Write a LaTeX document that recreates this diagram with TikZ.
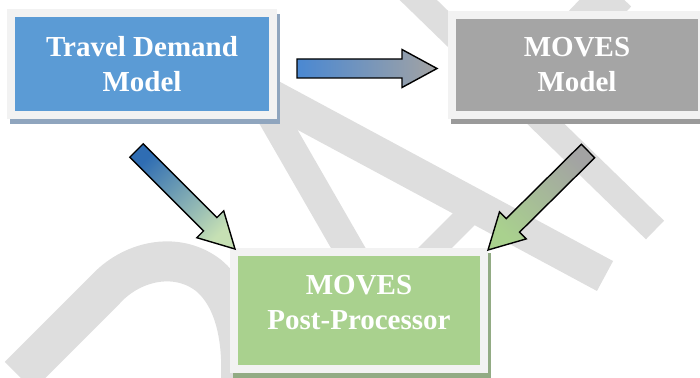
\documentclass[tikz,border=0pt]{standalone}
\usepackage{fontspec}
\setmainfont{Liberation Serif}
\usepackage{xcolor}
\usepackage{tikz}
\usetikzlibrary{calc}

\definecolor{tdmblue}{HTML}{5B9BD5}
\definecolor{tdmshade}{HTML}{8FA5BE}
\definecolor{movgray}{HTML}{A5A5A5}
\definecolor{movshade}{HTML}{9A9A9A}
\definecolor{postgreen}{HTML}{A9D18E}
\definecolor{postshade}{HTML}{92AB84}
\definecolor{rim}{HTML}{F2F2F2}
\definecolor{wm}{HTML}{DEDEDE}
\definecolor{arrblue}{HTML}{4A88D2}
\definecolor{arrdeep}{HTML}{2F6DB3}
\definecolor{arrpale}{HTML}{C6E0B4}
\definecolor{arrgray}{HTML}{A3A3A3}

\newcommand{\boxfont}{\fontsize{29}{35}\selectfont\bfseries}

% block arrow: tail, tip, shading
\newcommand{\fatarrow}[3]{%
  \coordinate (fa-base) at ($(#2)!35pt!(#1)$);
  \draw[arrowline, #3] ($(#1)!9.5pt!90:(#2)$) -- ($(fa-base)!9.5pt!90:(#2)$)
    -- ($(fa-base)!19pt!90:(#2)$) -- (#2) -- ($(fa-base)!19pt!-90:(#2)$)
    -- ($(fa-base)!9.5pt!-90:(#2)$) -- ($(#1)!9.5pt!-90:(#2)$) -- cycle;
}

\begin{document}
\begin{tikzpicture}[x=1pt, y=-1pt,
    box/.style={rectangle, draw=rim, line width=8pt, inner sep=0pt,
        minimum width=250pt, minimum height=100pt, align=center,
        text=white, font=\boxfont,
        preaction={draw=#1, fill=#1, transform canvas={shift={(3pt,-5pt)}}}},
    arrowline/.style={draw=black, line width=1.4pt, line join=miter},
    wmband/.style={draw=wm, line width=#1, line cap=butt}
]
    \useasboundingbox (0,0) rectangle (700,377);

    % watermark
    \draw[wmband=40] (19,376) -- (105,290) .. controls (130,262) and (175,250) .. (208,275)
        .. controls (235,297) and (245,340) .. (240,395);
    \draw[wmband=30] (240,60) -- (430,390);
    \draw[wmband=34] (250,85) -- (605,276);
    \draw[wmband=24] (380,303) -- (478,205);
    \draw[wmband=26] (408,-10) -- (655,230);
    \draw[wmband=42] (616,-8) -- (508,105);

    % Nodes
    \node[box=tdmshade, fill=tdmblue, minimum width=262pt, minimum height=102pt]
        (tdm) at (142,64) {Travel Demand\\Model};
    \node[box=movshade, fill=movgray] (moves) at (577,65) {MOVES\\Model};
    \node[box=postshade, fill=postgreen, minimum height=117pt] (post) at (359,310.5) {};
    \node[font=\boxfont, text=white, align=center] (postlabel)
        at ([yshift=8pt]post.center) {MOVES\\Post-Processor};

    % Arrows
    \coordinate (a1tail) at (297,68.5);
    \coordinate (a1tip)  at (437,68.5);
    \coordinate (a2tail) at (136.5,150.5);
    \coordinate (a2tip)  at ([shift={(5,1)}]post.north west);
    \coordinate (a3tail) at (588,151);
    \coordinate (a3tip)  at ([shift={(0,2)}]post.north east);

    \fatarrow{a1tail}{a1tip}{shading=axis, bottom color=arrblue, top color=arrgray, shading angle=-90}
    \fatarrow{a2tail}{a2tip}{shading=axis, bottom color=arrdeep, top color=arrpale, shading angle=-135}
    \fatarrow{a3tail}{a3tip}{shading=axis, bottom color=arrgray, top color=postgreen, shading angle=135}
\end{tikzpicture}
\end{document}
